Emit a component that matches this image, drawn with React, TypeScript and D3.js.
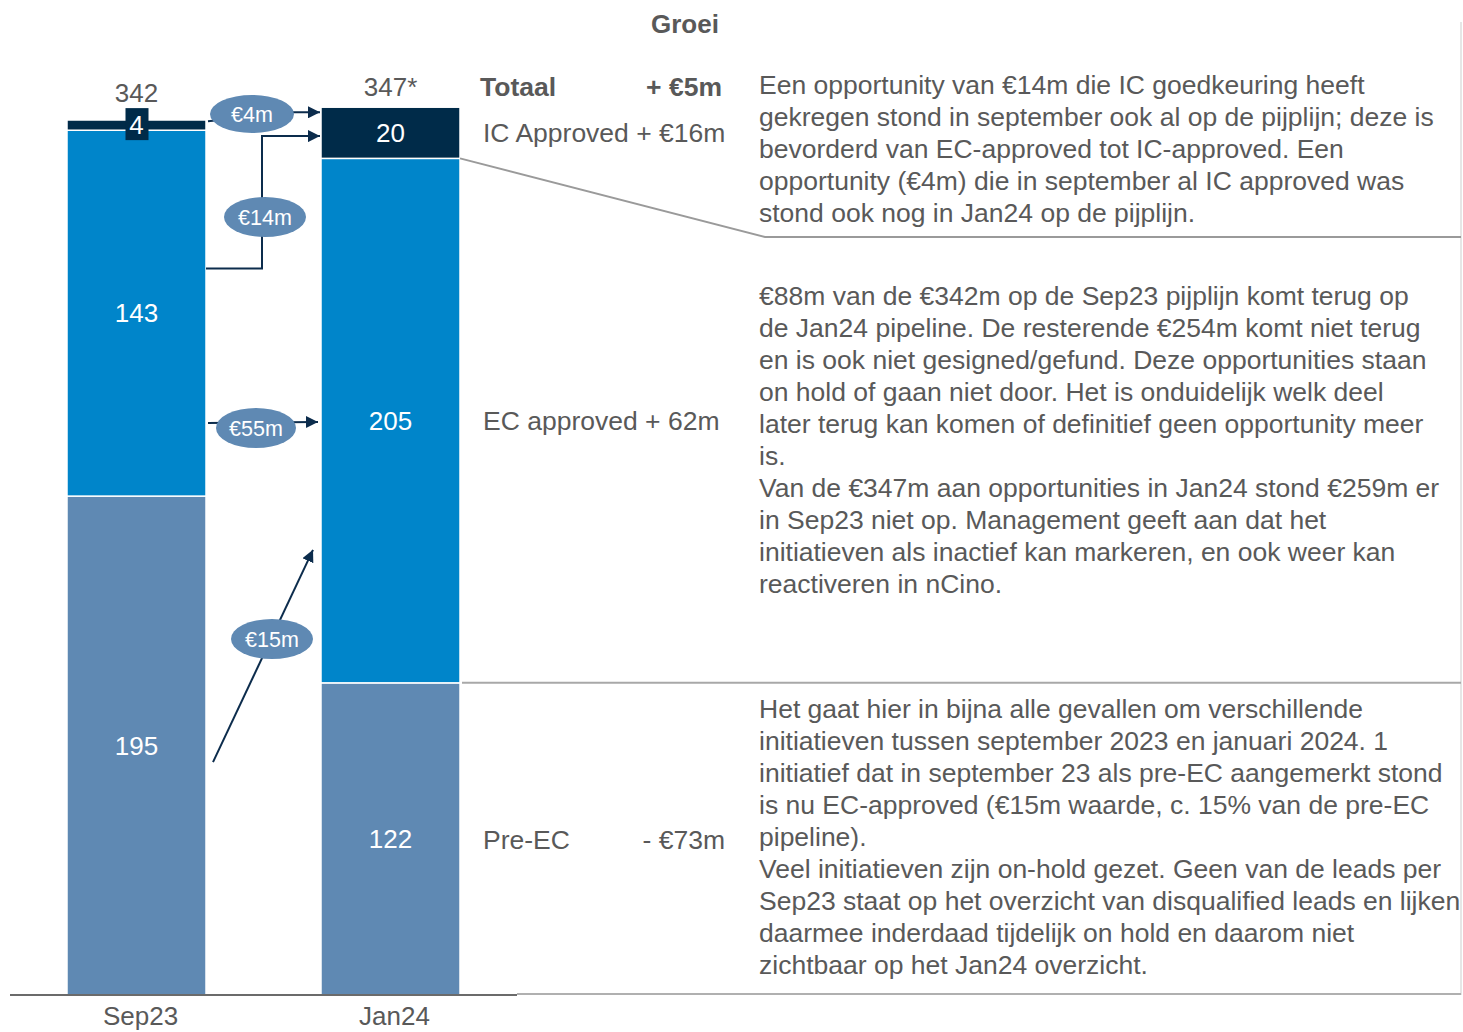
import React from 'react';
import * as d3 from 'd3';

const categories = ['Sep23', 'Jan24'];
const segmentKeys = ['preEC', 'ecApproved', 'icApproved'];
const preEC = [195, 122];
const ecApproved = [143, 205];
const icApproved = [4, 20];
const totalLabels = ['342', '347*'];

const growthLabels = ['Totaal', 'IC Approved', 'EC approved', 'Pre-EC'];
const growthValues = ['+ €5m', '+ €16m', '+ 62m', '- €73m'];

// flows: [label, fromValue, toValue]
const flowLabels = ['€4m', '€14m', '€55m', '€15m'];
const flowFrom = [341.5, 284, 223.6, 91];
const flowTo = [345, 335.7, 224, 174];

const para1 = [
  'Een opportunity van €14m die IC goedkeuring heeft',
  'gekregen stond in september ook al op de pijplijn; deze is',
  'bevorderd van EC-approved tot IC-approved. Een',
  'opportunity (€4m) die in september al IC approved was',
  'stond ook nog in Jan24 op de pijplijn.',
];
const para2 = [
  '€88m van de €342m op de Sep23 pijplijn komt terug op',
  'de Jan24 pipeline. De resterende €254m komt niet terug',
  'en is ook niet gesigned/gefund. Deze opportunities staan',
  'on hold of gaan niet door. Het is onduidelijk welk deel',
  'later terug kan komen of definitief geen opportunity meer',
  'is.',
  'Van de €347m aan opportunities in Jan24 stond €259m er',
  'in Sep23 niet op. Management geeft aan dat het',
  'initiatieven als inactief kan markeren, en ook weer kan',
  'reactiveren in nCino.',
];
const para3 = [
  'Het gaat hier in bijna alle gevallen om verschillende',
  'initiatieven tussen september 2023 en januari 2024. 1',
  'initiatief dat in september 23 als pre-EC aangemerkt stond',
  'is nu EC-approved (€15m waarde, c. 15% van de pre-EC',
  'pipeline).',
  'Veel initiatieven zijn on-hold gezet. Geen van de leads per',
  'Sep23 staat op het overzicht van disqualified leads en lijken',
  'daarmee inderdaad tijdelijk on hold en daarom niet',
  'zichtbaar op het Jan24 overzicht.',
];

const W = 1463;
const H = 1032;
const FONT = 'Arial, "Liberation Sans", sans-serif';
const GRAY = '#595959';
const colors: Record<string, string> = {
  preEC: '#5f89b3',
  ecApproved: '#0085ca',
  icApproved: '#002b49',
};
const NAVY = '#0c2c4c';
const BUBBLE = '#5f89b3';
const totalOffsets = [18, 11];

export default function App() {
  const rows = categories.map((c, i) => ({
    cat: c,
    preEC: preEC[i],
    ecApproved: ecApproved[i],
    icApproved: icApproved[i],
  }));
  const stack = d3.stack<any>().keys(segmentKeys)(rows);
  const x = d3.scalePoint<string>().domain(categories).range([136.5, 390.5]);
  const y = d3.scaleLinear().domain([0, 342]).range([995, 120]);
  const barW = 139;
  const left0 = x('Sep23')! - barW / 2;
  const right0 = x('Sep23')! + barW / 2;
  const left1 = x('Jan24')! - barW / 2;

  const fs = 26;
  const pfs = 26.5;
  const paraX = 759;
  const lh = 32;

  const bubble = (cx: number, cy: number, rx: number, ry: number, t: string) => (
    <g key={t}>
      <ellipse cx={cx} cy={cy} rx={rx} ry={ry} fill={BUBBLE} />
      <text x={cx} y={cy + 7.5} textAnchor="middle" fill="#fff" fontSize={21.5}>
        {t}
      </text>
    </g>
  );

  return (
    <svg
      width={W}
      height={H}
      style={{ position: 'absolute', left: 0, top: 0, background: '#fff' }}
      fontFamily={FONT}
    >
      <defs>
        <marker id="ah" viewBox="0 0 10 10" refX="10" refY="5" markerWidth="6" markerHeight="6" orient="auto" markerUnits="strokeWidth">
          <path d="M0,0 L10,5 L0,10 z" fill={NAVY} />
        </marker>
      </defs>
      {/* right border line */}
      <line x1={1461} x2={1461} y1={22} y2={995} stroke="#e6e6e6" strokeWidth={2} />

      {/* bars */}
      {stack.map((s) =>
        s.map((d, i) => (
          <rect
            key={s.key + i}
            x={x(categories[i])! - barW / 2}
            y={y(d[1])}
            width={barW}
            height={y(d[0]) - y(d[1])}
            fill={colors[s.key]}
            stroke="#fff"
            strokeWidth={1.5}
          />
        ))
      )}

      {/* segment labels */}
      {stack.map((s) =>
        s.map((d, i) => {
          const cx = x(categories[i])!;
          const cy = (y(d[0]) + y(d[1])) / 2;
          const v = d[1] - d[0];
          if (s.key === 'icApproved' && i === 0) {
            return (
              <g key={'l' + s.key + i}>
                <rect x={cx - 11} y={cy - 17} width={23} height={32} fill={colors.icApproved} />
                <text x={cx} y={cy + 9} textAnchor="middle" fill="#fff" fontSize={fs}>
                  {v}
                </text>
              </g>
            );
          }
          return (
            <text key={'l' + s.key + i} x={cx} y={cy + 9} textAnchor="middle" fill="#fff" fontSize={fs}>
              {v}
            </text>
          );
        })
      )}

      {/* totals */}
      {categories.map((c, i) => (
        <text
          key={'t' + c}
          x={x(c)!}
          y={y(stack[2][i][1]) - totalOffsets[i]}
          textAnchor="middle"
          fill={GRAY}
          fontSize={fs}
        >
          {totalLabels[i]}
        </text>
      ))}

      {/* baseline */}
      <line x1={10} x2={517} y1={y(0)} y2={y(0)} stroke="#6b6b6b" strokeWidth={2} />
      <line x1={517} x2={1461} y1={y(0) - 1} y2={y(0) - 1} stroke="#b0b0b0" strokeWidth={2} />
      {categories.map((c) => (
        <text key={'c' + c} x={x(c)! + 4} y={1025} textAnchor="middle" fill={GRAY} fontSize={fs}>
          {c}
        </text>
      ))}

      {/* flows */}
      <path
        d={`M${right0 + 2},${y(flowFrom[0])} L${left0 + 226},${y(flowTo[0])} L${left1 - 1},${y(flowTo[0])}`}
        fill="none"
        stroke={NAVY}
        strokeWidth={2}
        markerEnd="url(#ah)"
      />
      <path
        d={`M${right0},${y(flowFrom[1])} L${right0 + 56},${y(flowFrom[1])} L${right0 + 56},${y(flowTo[1])} L${left1 - 1},${y(flowTo[1])}`}
        fill="none"
        stroke={NAVY}
        strokeWidth={2}
        markerEnd="url(#ah)"
      />
      <path
        d={`M${right0 + 2},${y(flowFrom[2])} L${left1 - 3},${y(flowTo[2])}`}
        fill="none"
        stroke={NAVY}
        strokeWidth={2}
        markerEnd="url(#ah)"
      />
      <path
        d={`M${right0 + 7},${y(flowFrom[3])} L${left1 - 8},${y(flowTo[3])}`}
        fill="none"
        stroke={NAVY}
        strokeWidth={2}
        markerEnd="url(#ah)"
      />
      {bubble(252, 114, 42, 19, flowLabels[0])}
      {bubble(265, 217, 41, 20, flowLabels[1])}
      {bubble(256, 428, 40, 20, flowLabels[2])}
      {bubble(272, 639, 41, 20, flowLabels[3])}

      {/* connector lines */}
      <path d={`M${left1 + barW},${y(327)} L765,237 L1461,237`} fill="none" stroke="#9a9a9a" strokeWidth={2} />
      <line x1={left1 + barW + 2} x2={1461} y1={y(122)} y2={y(122)} stroke="#a8a8a8" strokeWidth={2} />

      {/* growth column */}
      <text x={685} y={33} textAnchor="middle" fontWeight="bold" fill={GRAY} fontSize={fs}>
        Groei
      </text>
      <text x={480} y={96} fontWeight="bold" fill={GRAY} fontSize={pfs}>
        {growthLabels[0]}
      </text>
      <text x={722} y={96} textAnchor="end" fontWeight="bold" fill={GRAY} fontSize={pfs}>
        {growthValues[0]}
      </text>
      <text x={483} y={142} fill={GRAY} fontSize={pfs}>
        {growthLabels[1]} {growthValues[1]}
      </text>
      <text x={483} y={430} fill={GRAY} fontSize={pfs}>
        {growthLabels[2]} {growthValues[2]}
      </text>
      <text x={483} y={849} fill={GRAY} fontSize={pfs}>
        {growthLabels[3]}
      </text>
      <text x={725} y={849} textAnchor="end" fill={GRAY} fontSize={pfs}>
        {growthValues[3]}
      </text>

      {/* paragraphs */}
      {[
        { lines: para1, top: 94 },
        { lines: para2, top: 305 },
        { lines: para3, top: 718 },
      ].map((p, pi) => (
        <text key={'p' + pi} x={paraX} fill={GRAY} fontSize={pfs}>
          {p.lines.map((l, li) => (
            <tspan key={li} x={paraX} y={p.top + li * lh}>
              {l}
            </tspan>
          ))}
        </text>
      ))}
    </svg>
  );
}
